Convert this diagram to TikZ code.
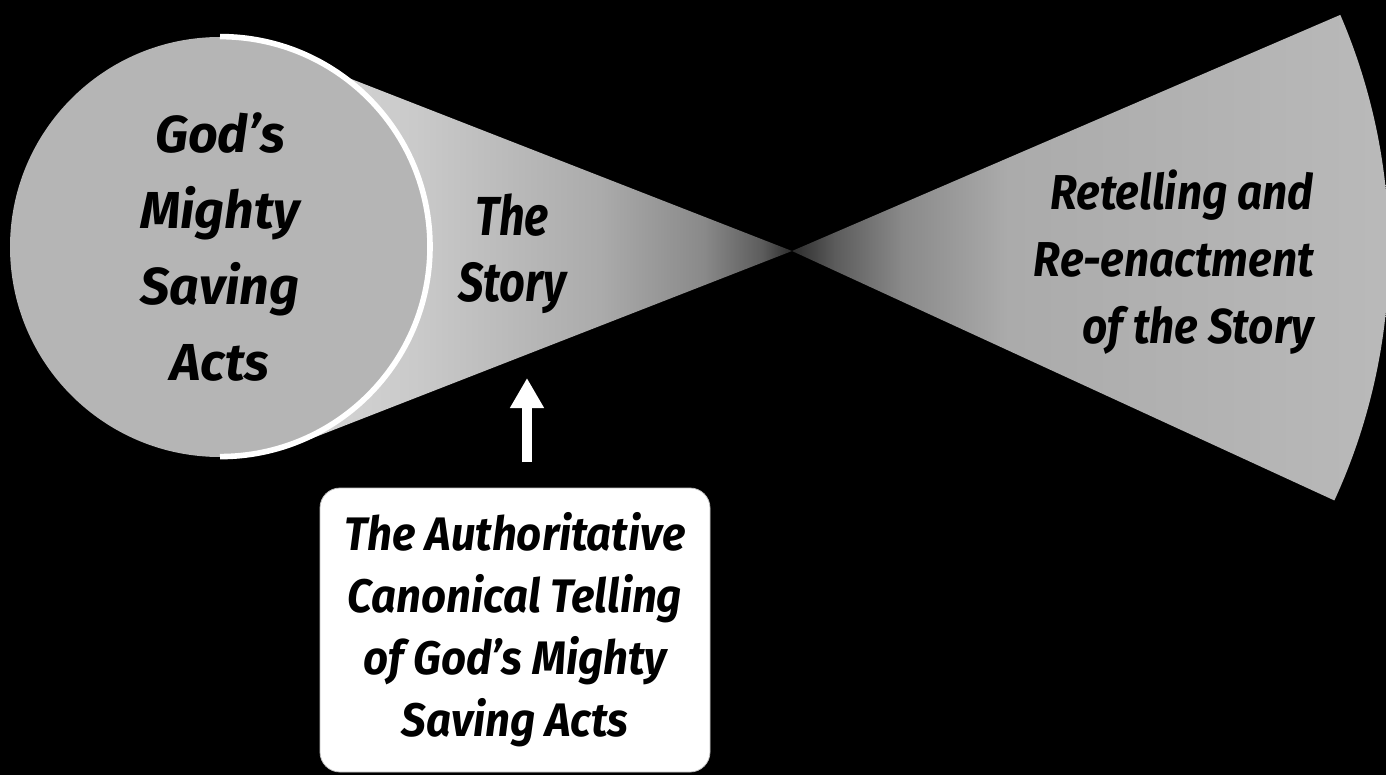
\documentclass[tikz,border=0pt]{standalone}
\usepackage{fontspec}
\setmainfont{Fira Sans}
\newfontfamily\storyfont[FakeStretch=0.82]{Fira Sans}
\newfontfamily\retellfont[FakeStretch=0.9]{Fira Sans}
\newfontfamily\canonfont[FakeStretch=0.93]{Fira Sans}
\usepackage{xcolor}
\usetikzlibrary{positioning, arrows.meta}

\definecolor{discgray}{gray}{0.71}
\definecolor{wedgegray}{gray}{0.73}
\definecolor{conea}{gray}{0.84}
\definecolor{coneb}{gray}{0.79}
\definecolor{conec}{gray}{0.67}
\definecolor{coned}{gray}{0.54}
\definecolor{conee}{gray}{0.36}
\definecolor{conef}{gray}{0.17}
\pgfdeclarehorizontalshading{storyfade}{100bp}{color(0bp)=(conea); color(25bp)=(conea);
  color(37bp)=(coneb); color(55.5bp)=(conec); color(66bp)=(coned); color(72bp)=(conee);
  color(75bp)=(conef); color(100bp)=(conef)}
\pgfdeclarehorizontalshading{retellfade}{100bp}{color(0bp)=(conef); color(25bp)=(conef);
  color(28.5bp)=(conee); color(34bp)=(coned); color(42.5bp)=(conec); color(75bp)=(wedgegray);
  color(100bp)=(wedgegray)}

\begin{document}
\begin{tikzpicture}[x=0.5pt, y=-0.5pt,
  disc/.style={circle, fill=discgray, minimum size=210pt, inner sep=0pt, align=center,
               font=\bfseries\itshape\fontsize{26}{38}\selectfont},
  label/.style={align=center, inner sep=0pt, font=\storyfont\bfseries\itshape\fontsize{27.5}{33}\selectfont},
  canonbox/.style={rectangle, rounded corners=10pt, fill=white, draw=gray!50,
               minimum width=195pt, minimum height=142pt, align=center,
               font=\canonfont\bfseries\itshape\fontsize{23.5}{31}\selectfont},
  rim/.style={draw=white, line width=2.8pt},
  uparrow/.style={draw=white, line width=5pt, -{Triangle[width=16pt, length=15pt]}}]
\fill[black] (0,0) rectangle (1386,775);
\useasboundingbox (0,0) rectangle (1386,775);
\coordinate (cross) at (792,251);
% cones either side of the crossing
\shade[shading=storyfade] (cross) -- (300,59) -- (300,443) -- cycle;
\shade[shading=retellfade] (cross) -- ++(-23.3:597) arc[start angle=-23.3, end angle=24.7, radius=597] -- cycle;
\node[disc] (acts) at (220,247) {God’s\\Mighty\\Saving\\Acts};
\draw[rim] (acts.north) arc[start angle=-90, end angle=90, radius=210];
\node[label] (story) at (512,254) {The\\Story};
\node[label, align=right, anchor=east, font=\retellfont\bfseries\itshape\fontsize{24.5}{33.5}\selectfont]
  (retell) at (1314,262) {Retelling and\\Re-enactment\\of the Story};
\node[canonbox] (canon) at (515,630) {The Authoritative\\Canonical Telling\\of God’s Mighty\\Saving Acts};
\coordinate (tail) at (527,462);
\coordinate (tip) at (527,378);
\draw[uparrow] (tail) -- (tip);
\end{tikzpicture}
\end{document}
